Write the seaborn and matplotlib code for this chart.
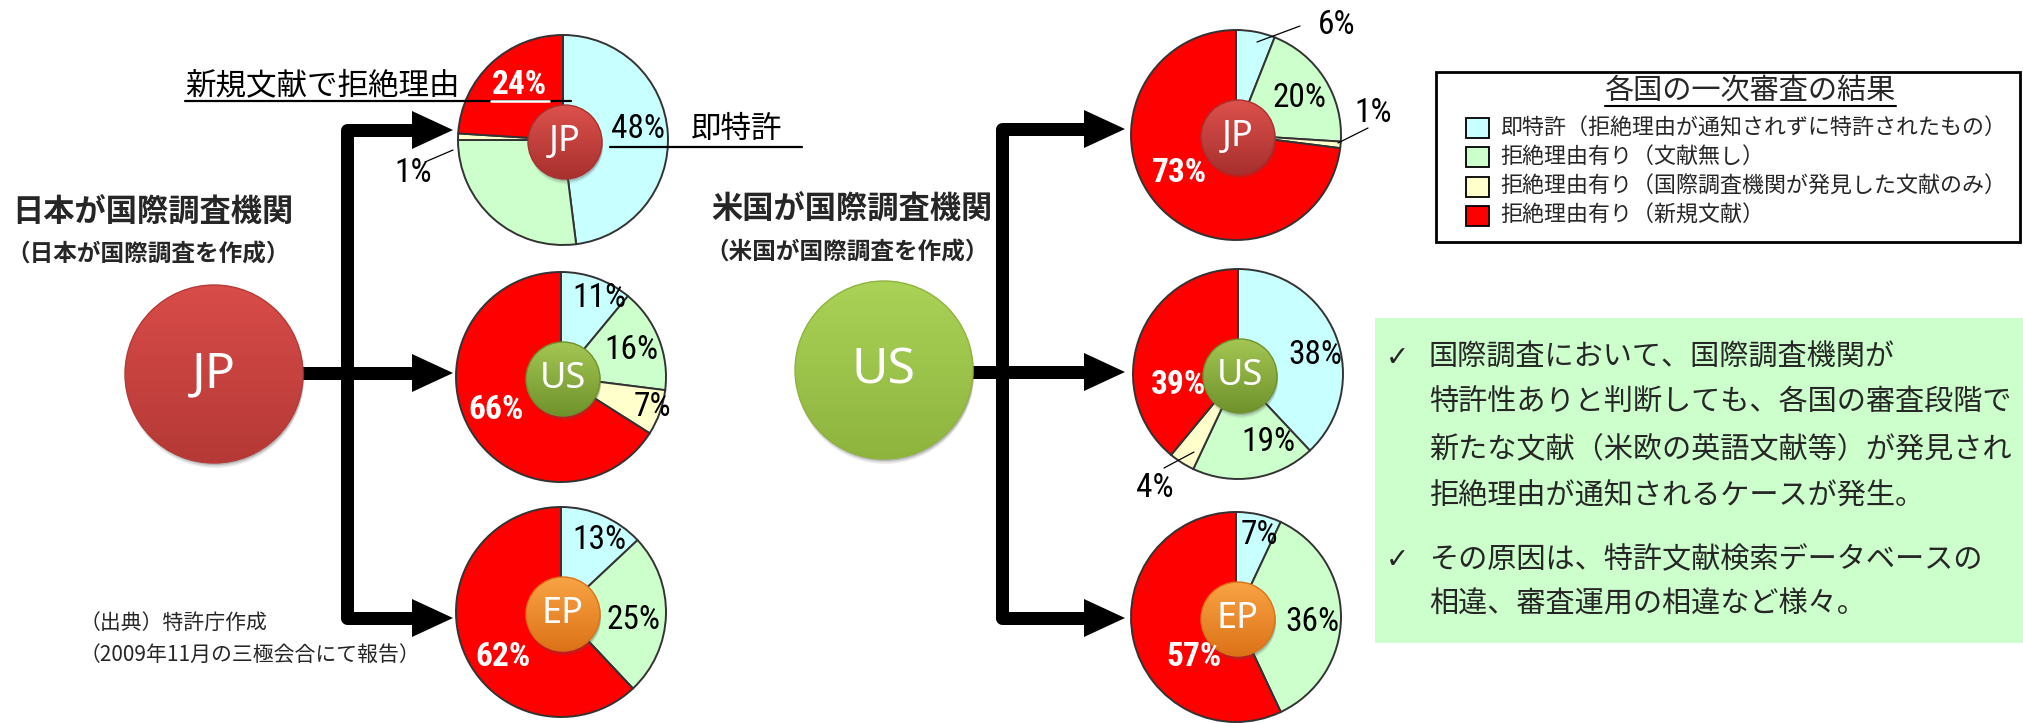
import numpy as np
import matplotlib
matplotlib.use("Agg")
import matplotlib.pyplot as plt
import seaborn as sns
from matplotlib import font_manager
from matplotlib.patches import Circle, Rectangle, Polygon
from matplotlib.lines import Line2D

# ---------------- data ----------------
categories = [
    "即特許（拒絶理由が通知されずに特許されたもの）",
    "拒絶理由有り（文献無し）",
    "拒絶理由有り（国際調査機関が発見した文献のみ）",
    "拒絶理由有り（新規文献）",
]
legend_title = "各国の一次審査の結果"
slice_colors = ["#C8FFFF", "#CCFFCC", "#FFFFCC", "#FF0000"]

# JP as International Searching Authority -> first action in JP / US / EP
jp_to_jp = [48, 27, 1, 24]
jp_to_us = [11, 16, 7, 66]
jp_to_ep = [13, 25, 0, 62]
# US as International Searching Authority -> first action in JP / US / EP
us_to_jp = [6, 20, 1, 73]
us_to_us = [38, 19, 4, 39]
us_to_ep = [7, 36, 0, 57]

office_names = ["JP", "US", "EP"]
left_title = "日本が国際調査機関"
left_sub = "（日本が国際調査を作成）"
right_title = "米国が国際調査機関"
right_sub = "（米国が国際調査を作成）"
note_red = "新規文献で拒絶理由"
note_cyan = "即特許"
box_lines = [
    ("✓", "国際調査において、国際調査機関が"),
    ("", "特許性ありと判断しても、各国の審査段階で"),
    ("", "新たな文献（米欧の英語文献等）が発見され"),
    ("", "拒絶理由が通知されるケースが発生。"),
    ("✓", "その原因は、特許文献検索データベースの"),
    ("", "相違、審査運用の相違など様々。"),
]
source_lines = ["（出典）特許庁作成", "（2009年11月の三極会合にて報告）"]

# ---------------- style / fonts ----------------
sns.set_theme(style="white")
plt.rcParams["font.family"] = ["Noto Sans CJK JP", "DejaVu Sans"]
names = {f.name for f in font_manager.fontManager.ttflist}
PCT_FONT, PCT_SIZE = "Liberation Sans", 21
for cand in ["Liberation Sans Narrow", "Arial Narrow", "Roboto Condensed", "Open Sans Condensed"]:
    if cand in names:
        PCT_FONT, PCT_SIZE = cand, 24
        break
palette = sns.color_palette(slice_colors)

W, H = 2024, 723
fig = plt.figure(figsize=(W / 100, H / 100), dpi=100)
fig.patch.set_facecolor("white")
ax = fig.add_axes([0, 0, 1, 1])


def Y(y):
    return H - y


PX = 72 / 100  # points per pixel

# ---------------- layout ----------------
R = 105
pie_layout = {
    "jp_to_jp": (563, 140),
    "jp_to_us": (561, 377),
    "jp_to_ep": (561, 612),
    "us_to_jp": (1236, 135),
    "us_to_us": (1238, 374),
    "us_to_ep": (1236, 617),
}
# label spec per slice: None, ("in", angle, rf, color, bold) or ("out", text_off, lead_a, lead_b)
label_layout = {
    "jp_to_jp": [("in", 8, 0.72, "black", False), None,
                 ("out", (-150, -33), (-138, -22), (-110, -10)),
                 ("in", 128, 0.67, "white", True)],
    "jp_to_us": [("in", 64, 0.84, "black", False), ("in", 21, 0.72, "black", False),
                 ("in", -18, 0.92, "black", False), ("in", -153, 0.69, "white", True)],
    "jp_to_ep": [("in", 62, 0.78, "black", False), ("in", -6, 0.69, "black", False),
                 None, ("in", -142, 0.70, "white", True)],
    "us_to_jp": [("out", (101, 110), (21, 93), (64, 109)), ("in", 30, 0.70, "black", False),
                 ("out", (137, 22), (102, -8), (132, 7)), ("in", -146, 0.65, "white", True)],
    "us_to_us": [("in", 14, 0.76, "black", False), ("in", -66, 0.71, "black", False),
                 ("out", (-83, -114), (-74, -94), (-44, -78)), ("in", 190, 0.58, "white", True)],
    "us_to_ep": [("in", 74, 0.81, "black", False), ("in", -4, 0.73, "black", False),
                 None, ("in", -136, 0.55, "white", True)],
}
pie_values = {
    "jp_to_jp": jp_to_jp, "jp_to_us": jp_to_us, "jp_to_ep": jp_to_ep,
    "us_to_jp": us_to_jp, "us_to_us": us_to_us, "us_to_ep": us_to_ep,
}
pie_badge = {
    "jp_to_jp": "JP", "jp_to_us": "US", "jp_to_ep": "EP",
    "us_to_jp": "JP", "us_to_us": "US", "us_to_ep": "EP",
}
badge_colors = {
    "JP": ("#DC514C", "#A8302E"),
    "US": ("#A4C653", "#6F922C"),
    "EP": ("#F8A444", "#DD7218"),
}
big_colors = {
    "JP": ("#D84C49", "#B53936"),
    "US": ("#AAD257", "#8EB43E"),
}


def gradient_circle(cx, cy, r, c_top, c_bot, z, shadow=True):
    if shadow:
        for k, a in [(5, 0.10), (3.5, 0.15), (2, 0.25)]:
            ax.add_patch(Circle((cx + 1, Y(cy) - k), r, color="#555555", alpha=a,
                                lw=0, zorder=z - 0.2))
    t = np.array(matplotlib.colors.to_rgb(c_top))
    b = np.array(matplotlib.colors.to_rgb(c_bot))
    f = np.linspace(0, 1, 128)[:, None, None]
    img = t * (1 - f) + b * f
    img = np.repeat(img, 2, axis=1)
    clip = Circle((cx, Y(cy)), r, transform=ax.transData)
    im = ax.imshow(img, extent=(cx - r, cx + r, Y(cy) - r, Y(cy) + r), origin="upper",
                   interpolation="bilinear", zorder=z, aspect="auto")
    im.set_clip_path(clip)
    ax.add_patch(Circle((cx, Y(cy)), r, fill=False, ec=c_bot, lw=1.0, zorder=z + 0.1))


# ---------------- pies ----------------
for key, (cx, cy) in pie_layout.items():
    vals = pie_values[key]
    wedges, _ = ax.pie(vals, colors=palette, startangle=90, counterclock=False,
                       center=(cx, Y(cy)), radius=R, frame=True,
                       wedgeprops=dict(edgecolor="#333333", linewidth=1.4))
    for w in wedges:
        w.set_zorder(2)
    # badge
    code = pie_badge[key]
    gradient_circle(cx + 2, cy + 2, 37, *badge_colors[code], z=4)
    ax.text(cx + 2, Y(cy + 2), code, color="white", fontsize=26, family="Noto Sans",
            ha="center", va="center", zorder=5)
    # labels
    for i, spec in enumerate(label_layout[key]):
        if spec is None or vals[i] == 0:
            continue
        txt = f"{vals[i]}%"
        if spec[0] == "in":
            _, ang, rf, col, bold = spec
            tx = cx + rf * R * np.cos(np.radians(ang))
            ty = Y(cy) + rf * R * np.sin(np.radians(ang))
            ax.text(tx, ty, txt, color=col, fontsize=PCT_SIZE, family=PCT_FONT,
                    fontweight="bold" if bold else "normal",
                    ha="center", va="center", zorder=6)
        else:
            _, toff, la, lb = spec
            ax.add_line(Line2D([cx + la[0], cx + lb[0]], [Y(cy) + la[1], Y(cy) + lb[1]],
                               color="black", lw=0.9, zorder=6))
            ax.text(cx + toff[0], Y(cy) + toff[1], txt, color="black", fontsize=PCT_SIZE,
                    family=PCT_FONT, ha="center", va="center", zorder=6)

# ---------------- big source circles + arrows ----------------
gradient_circle(214, 374, 89, *big_colors["JP"], z=3)
ax.text(214, Y(374), "JP", color="white", fontsize=36, family="Noto Sans",
        ha="center", va="center", zorder=5)
gradient_circle(884, 370, 89, *big_colors["US"], z=3)
ax.text(884, Y(370), "US", color="white", fontsize=36, family="Noto Sans",
        ha="center", va="center", zorder=5)

LW = 13 * PX
for vx, ys, start, base, tip in [
    (347, (130, 373, 618), 300, 412, 453),
    (1002, (129, 372, 618), 970, 1084, 1125),
]:
    ax.add_line(Line2D([base + 2, vx, vx, base + 2], [Y(ys[0]), Y(ys[0]), Y(ys[2]), Y(ys[2])],
                       color="black", lw=LW, solid_joinstyle="round",
                       solid_capstyle="butt", zorder=2.5))
    ax.add_line(Line2D([start, base + 2], [Y(ys[1]), Y(ys[1])], color="black", lw=LW,
                       solid_capstyle="butt", zorder=2.5))
    for yy in ys:
        ax.add_patch(Polygon([(base, Y(yy - 19)), (tip, Y(yy)), (base, Y(yy + 19))],
                             closed=True, color="black", lw=0, zorder=2.6))

# ---------------- annotations ----------------
ax.text(185, Y(86), note_red, fontsize=22, ha="left", va="center", color="black", zorder=6)
ax.add_line(Line2D([185, 571], [Y(101), Y(101)], color="black", lw=1.6, zorder=6))
ax.add_line(Line2D([491, 549], [Y(101), Y(101)], color="white", lw=1.8, zorder=6.5))
ax.text(691, Y(129), note_cyan, fontsize=22, ha="left", va="center", color="black", zorder=6)
ax.add_line(Line2D([610, 802], [Y(147), Y(147)], color="black", lw=1.6, zorder=6))

ax.text(12, Y(213), left_title, fontsize=22.5, fontweight="bold", ha="left", va="center")
ax.text(6, Y(255), left_sub, fontsize=17, fontweight="bold", ha="left", va="center")
ax.text(711, Y(210), right_title, fontsize=22.5, fontweight="bold", ha="left", va="center")
ax.text(705, Y(253), right_sub, fontsize=17, fontweight="bold", ha="left", va="center")

for i, line in enumerate(source_lines):
    ax.text(80, Y(623 + 32 * i), line, fontsize=15, ha="left", va="center")

# ---------------- legend box ----------------
ax.add_patch(Rectangle((1436, Y(242)), 584, 170, fc="white", ec="black", lw=2.0,
                       zorder=3))
ax.text(1750, Y(92), legend_title, fontsize=21, ha="center", va="center", zorder=4)
ax.add_line(Line2D([1605, 1896], [Y(106), Y(106)], color="black", lw=1.5, zorder=4))
for i, (lab, col) in enumerate(zip(categories, palette)):
    yy = 128 + 29.3 * i
    ax.add_patch(Rectangle((1466, Y(yy + 10)), 23, 20, fc=col, ec="black", lw=1.3, zorder=4))
    ax.text(1500, Y(yy), lab, fontsize=15.8, ha="left", va="center", zorder=4)

# ---------------- green note box ----------------
ax.add_patch(Rectangle((1375, Y(643)), 649, 325, fc="#CCFFCC", ec="none", zorder=1))
line_y = [358, 403, 450, 497, 560, 605]
for (mark, txt), yy in zip(box_lines, line_y):
    if mark:
        ax.text(1386, Y(yy), mark, fontsize=20, family="DejaVu Sans", ha="left",
                va="center", zorder=4)
    ax.text(1429, Y(yy), txt, fontsize=21, ha="left", va="center", zorder=4)

ax.set_aspect("auto")
ax.set_xlim(0, W)
ax.set_ylim(0, H)
ax.axis("off")
fig.savefig("out.png", dpi=100, facecolor="white")
